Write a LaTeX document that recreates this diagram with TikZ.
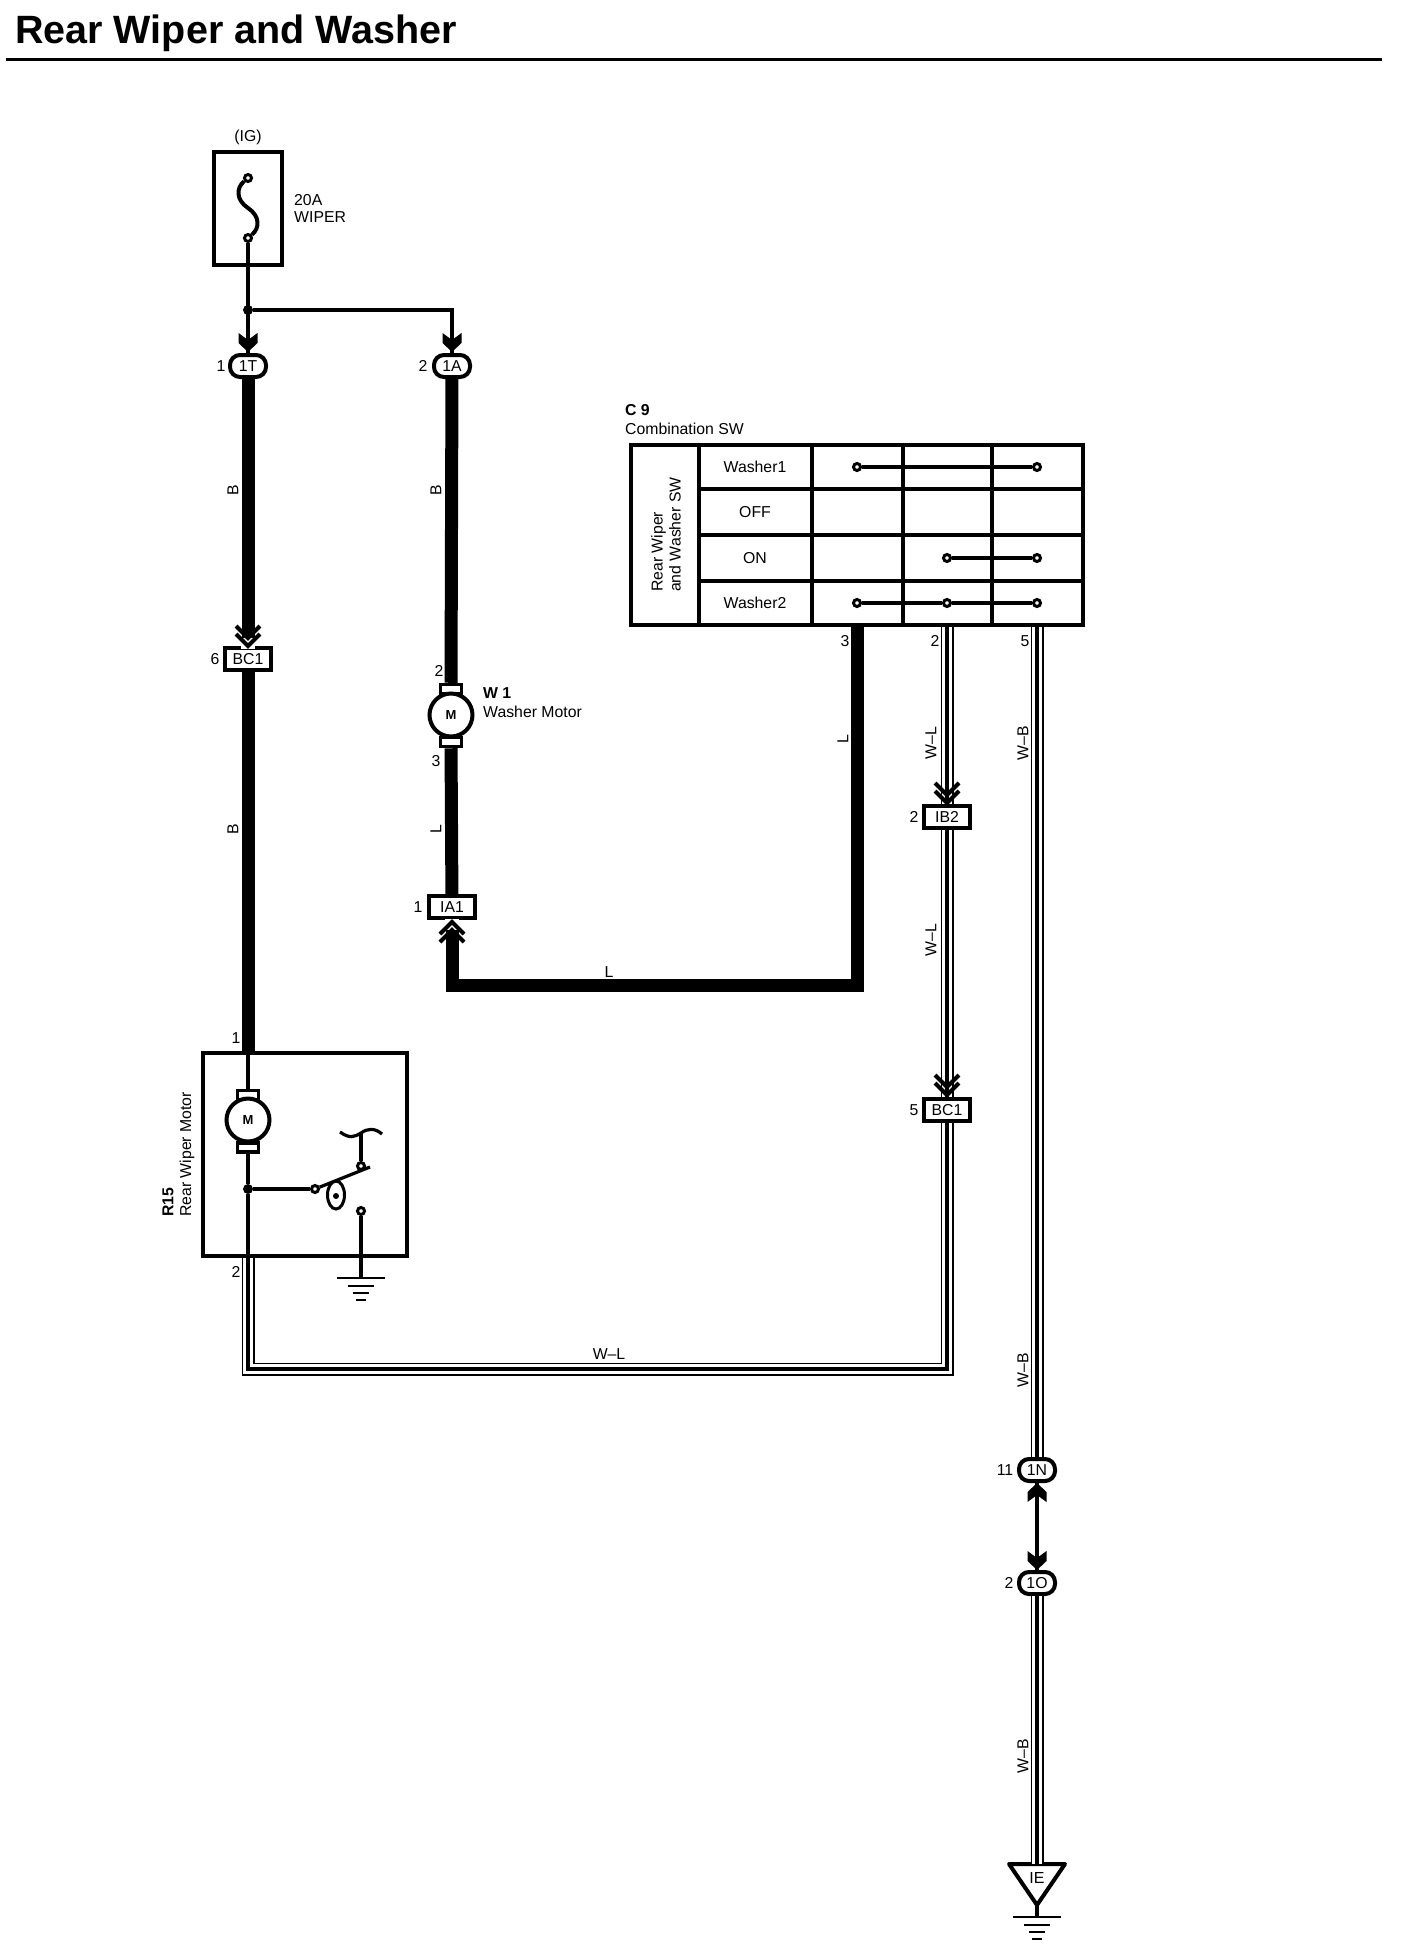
\documentclass[tikz,border=0pt]{standalone}
\usepackage{fontspec}
\usetikzlibrary{shapes.geometric}
\setmainfont{Liberation Sans}
\tikzset{
    smalltxt/.style={font=\fontsize{15.8}{18}\selectfont, inner sep=0pt},
    boldtxt/.style={font=\fontsize{15.8}{18}\selectfont\bfseries, inner sep=0pt},
    thinwire/.style={line width=3.2pt},
    bigwire/.style={line width=13pt},
    stripewire/.style={line width=13pt, postaction={draw=white, line width=10.4pt}, postaction={draw=black, line width=4pt}},
    oval/.style={draw, rounded corners=10pt, line width=4pt, fill=white, minimum width=36pt, minimum height=22pt, inner sep=0pt, font=\fontsize{15.8}{18}\selectfont},
    plug/.style={draw, line width=4pt, fill=white, minimum width=46pt, minimum height=22pt, inner sep=0pt, font=\fontsize{15.8}{18}\selectfont},
    motor/.style={draw, circle, line width=4pt, fill=white, minimum size=43pt, inner sep=0pt, font=\fontsize{13}{15}\selectfont\bfseries},
    boss/.style={draw, line width=3.5pt, fill=white, minimum width=21pt, minimum height=9pt, inner sep=0pt},
    term/.style={draw, circle, line width=3pt, fill=white, minimum size=7pt, inner sep=0pt},
    blob/.style={circle, fill, minimum size=10pt, inner sep=0pt},
    solidvee/.pic={\fill (-9.5,-19) -- (0,-12) -- (9.5,-19) -- (9.5,-9) -- (0,0) -- (-9.5,-9) -- cycle;},
    openvee/.pic={\draw[line width=4pt] (-12,-20) -- (0,-8) -- (12,-20) (-12,-12) -- (0,0) -- (12,-12);},
    bigvee/.pic={
        \fill[white] (-14,-8) -- (0,-6) -- (14,-8) -- (14,-4) -- (0,3) -- (-14,-4) -- cycle;
        \fill[white] (-7,-8) rectangle (7,3);
        \draw[line width=4pt] (-12,-20) -- (0,-8) -- (12,-20) (-12,-12) -- (0,0) -- (12,-12);
    },
    earth/.pic={
        \draw[line width=2.8pt] (-24,0) -- (24,0);
        \draw[line width=2.8pt] (-13,8) -- (13,8);
        \draw[line width=2.8pt] (-8,15) -- (8,15);
        \draw[line width=2.8pt] (-5,22) -- (5,22);
    }
}
\begin{document}
\begin{tikzpicture}[x=1pt, y=-1pt]
    \useasboundingbox (0,0) rectangle (1408,1954);
    % title
    \node[anchor=base west, inner sep=0pt, font=\fontsize{39.5}{41}\selectfont\bfseries] (title) at (15,43) {Rear Wiper and Washer};
    \coordinate (ruleL) at (6,59.5);
    \coordinate (ruleR) at (1382,59.5);
    \draw[line width=3.5pt] (ruleL) -- (ruleR);

    % fuse
    \node[draw, line width=4pt, minimum width=68pt, minimum height=113pt] (fusebox) at (248,208.5) {};
    \node[smalltxt] (ig) at (248,137) {(IG)};
    \node[term] (fusetop) at (248,178) {};
    \node[term] (fusebot) at (248,238) {};
    \draw[line width=4pt] (fusetop) .. controls (236,188) and (236,200) .. (248,208) .. controls (260,216) and (260,228) .. (fusebot);
    \node[smalltxt, anchor=west] (fuseamp) at (294,200) {20A};
    \node[smalltxt, anchor=west] (fusename) at (294,217) {WIPER};
    \node[blob] (jct) at (248,310) {};

    % connectors
    \node[oval] (c1T) at (248,366) {1T};
    \node[oval] (c1A) at (452,366) {1A};
    \node[plug] (bc1a) at (248,659) {BC1};
    \node[plug] (ia1) at (452,907) {IA1};
    \node[plug] (ib2) at (947,817) {IB2};
    \node[plug] (bc1b) at (947,1110) {BC1};
    \node[oval] (c1N) at (1037,1470) {1N};
    \node[oval] (c1O) at (1037,1583) {1O};
    \node[smalltxt] (p1T) at (221,366) {1};
    \node[smalltxt] (p1A) at (423,366) {2};
    \node[smalltxt] (pbc1a) at (215,659) {6};
    \node[smalltxt] (pia1) at (418,907) {1};
    \node[smalltxt] (pib2) at (914,817) {2};
    \node[smalltxt] (pbc1b) at (914,1110) {5};
    \node[smalltxt] (p1N) at (1005,1470) {11};
    \node[smalltxt] (p1O) at (1009,1583) {2};

    % washer motor
    \node[boss] (w1top) at (451,689) {};
    \node[boss] (w1bot) at (451,742) {};
    \node[motor] (w1) at (451,715) {M};
    \node[boldtxt, anchor=west] (w1id) at (483,693) {W 1};
    \node[smalltxt, anchor=west] (w1name) at (483,712) {Washer Motor};
    \node[smalltxt] (w1p2) at (439,671) {2};
    \node[smalltxt] (w1p3) at (436,761) {3};

    % combination switch
    \node[draw, line width=4pt, minimum width=452pt, minimum height=180pt] (c9) at (857,535) {};
    \node[boldtxt, anchor=west] (c9id) at (625,410) {C 9};
    \node[smalltxt, anchor=west] (c9name) at (625,429) {Combination SW};
    \node[smalltxt, rotate=90, anchor=west, align=left] (c9col) at (666,592) {Rear Wiper\\and Washer SW};
    \draw[thinwire] (699,445) -- (699,625);
    \draw[thinwire] (812,445) -- (812,625);
    \draw[thinwire] (903,445) -- (903,625);
    \draw[thinwire] (992,445) -- (992,625);
    \draw[thinwire] (699,489) -- (1083,489);
    \draw[thinwire] (699,535) -- (1083,535);
    \draw[thinwire] (699,581) -- (1083,581);
    \node[smalltxt] (rowa) at (755,467) {Washer1};
    \node[smalltxt] (rowb) at (755,512) {OFF};
    \node[smalltxt] (rowc) at (755,558) {ON};
    \node[smalltxt] (rowd) at (755,603) {Washer2};
    \node[term] (a3) at (857,467) {};
    \node[term] (a5) at (1037,467) {};
    \node[term] (c2) at (947,558) {};
    \node[term] (c5) at (1037,558) {};
    \node[term] (d3) at (857,603) {};
    \node[term] (d2) at (947,603) {};
    \node[term] (d5) at (1037,603) {};
    \draw[thinwire] (a3) -- (a5);
    \draw[thinwire] (c2) -- (c5);
    \draw[thinwire] (d3) -- (d2);
    \draw[thinwire] (d2) -- (d5);
    \coordinate (pin3) at (857,627);
    \coordinate (pin2) at (947,627);
    \coordinate (pin5) at (1037,627);
    \node[smalltxt] (c9p3) at (845,641) {3};
    \node[smalltxt] (c9p2) at (935,641) {2};
    \node[smalltxt] (c9p5) at (1025,641) {5};

    % rear wiper motor
    \node[draw, line width=4pt, minimum width=204pt, minimum height=203pt] (r15) at (305,1154.5) {};
    \node[boldtxt, rotate=90, anchor=west] (r15id) at (168,1217) {R15};
    \node[smalltxt, rotate=90, anchor=west] (r15name) at (187,1217) {Rear Wiper Motor};
    \node[smalltxt] (r15p1) at (236,1038) {1};
    \node[smalltxt] (r15p2) at (236,1272) {2};
    \node[boss] (r15top) at (248,1095) {};
    \node[boss] (r15bot) at (248,1147.5) {};
    \node[motor] (r15m) at (248,1120) {M};
    \node[blob] (r15jct) at (248,1189) {};
    \node[term] (swa) at (315,1189) {};
    \node[term] (swb) at (361,1166) {};
    \node[term] (swc) at (361,1211) {};
    \node[draw, ellipse, line width=3pt, minimum width=17pt, minimum height=28pt, inner sep=0pt] (cam) at (336,1195) {};
    \node[circle, fill, minimum size=6pt, inner sep=0pt] (camdot) at (336,1196) {};
    \coordinate (swtip) at (370,1167);
    \coordinate (swhead) at (361,1134);
    \coordinate (swgnd) at (361,1278);
    \draw[thinwire] (swa) -- (swtip);
    \draw[thinwire] (swb) -- (swhead);
    \draw[thinwire] (340,1132) .. controls (350,1139) and (354,1137) .. (361,1133) .. controls (368,1128) and (375,1128) .. (382,1134);
    \draw[line width=4pt] (r15.north -| r15top) -- (r15top);
    \draw[line width=4pt] (r15bot) -- (r15jct);
    \draw[line width=4pt] (r15jct) -- (r15.south -| r15jct);
    \draw[line width=3.5pt] (r15jct) -- (swa);
    \draw[line width=3.5pt] (swc) -- (swgnd);
    \pic at (swgnd) {earth};

    % ground point
    \coordinate (ietop) at (1037,1864);
    \coordinate (ietip) at (1037,1905);
    \coordinate (iegnd) at (1037,1917);
    \draw[line width=4pt, line join=round] (1009,1864) -- (1065,1864) -- (ietip) -- cycle;
    \node[inner sep=0pt, font=\fontsize{16}{18}\selectfont] (ie) at (1037,1878) {IE};
    \draw[thinwire] (ietip) -- (iegnd);
    \pic at (iegnd) {earth};

    % wires
    \draw[line width=4pt] (fusebot) -- (c1T);
    \draw[thinwire] (jct) -| (c1A);
    \draw[thinwire] (c1N) -- (c1O);
    \draw[bigwire] (c1T) -- (bc1a);
    \draw[bigwire] (bc1a) -- (r15.north -| bc1a);
    \draw[bigwire] (c1A) -- (w1top);
    \draw[bigwire] (w1bot) -- (ia1);
    \draw[bigwire] (pin3) -- (pin3 |- 0,985.5) -- (452,985.5) -- (ia1);
    \draw[stripewire] (pin2) -- (ib2);
    \draw[stripewire] (ib2) -- (bc1b);
    \draw[stripewire] (pin5) -- (c1N);
    \draw[stripewire] (c1O) -- (ietop);
    \draw[stripewire] (r15.south -| bc1a) -- (248,1369) -- (947,1369) -- (bc1b);

    % wire colours
    \node[smalltxt, rotate=90] (wb1) at (233,490) {B};
    \node[smalltxt, rotate=90] (wb2) at (233,829) {B};
    \node[smalltxt, rotate=90] (wb3) at (436,490) {B};
    \node[smalltxt, rotate=90] (wl1) at (436,829) {L};
    \node[smalltxt, rotate=90] (wl2) at (843,739) {L};
    \node[smalltxt] (wl3) at (609,972) {L};
    \node[smalltxt, rotate=90] (wwl1) at (931,743) {W--L};
    \node[smalltxt, rotate=90] (wwl2) at (931,940) {W--L};
    \node[smalltxt] (wwl3) at (609,1354) {W--L};
    \node[smalltxt, rotate=90] (wwb1) at (1023,743) {W--B};
    \node[smalltxt, rotate=90] (wwb2) at (1023,1370) {W--B};
    \node[smalltxt, rotate=90] (wwb3) at (1023,1756) {W--B};

    % arrow tips
    \pic at (248,352) {solidvee};
    \pic at (452,352) {solidvee};
    \pic at (1037,1570) {solidvee};
    \pic[rotate=180] at (1037,1483) {solidvee};
    \pic at (248,646) {bigvee};
    \pic at (947,803) {openvee};
    \pic at (947,1095) {openvee};
    \pic[rotate=180] at (452,922) {bigvee};
\end{tikzpicture}
\end{document}
